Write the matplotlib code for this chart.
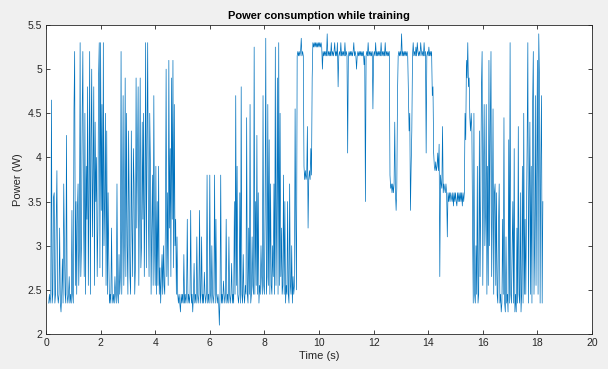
import numpy as np
import matplotlib
matplotlib.use("Agg")
from matplotlib import pyplot as plt

# sample spacing of the logger (s)
dt = 0.025

# power readings (W), grouped by phase of the run
# one row = 0.5 s of samples

# phase 1: busy start, from 0.10 s
start_1 = 0.10
power_1 = [2.35, 2.45, 2.35, 2.45, 4.65, 2.35, 2.45, 3.55, 3.6, 2.35, 2.45, 3.3, 3.85, 2.45, 2.35, 2.45, 3.2, 2.35, 2.25, 2.45,
           2.85, 2.35, 3.7, 3.0, 2.45, 2.35, 4.25, 2.45, 2.35, 2.45, 2.65, 2.35, 2.45, 2.35, 3.4, 2.45, 2.35, 4.55, 5.2, 2.55,
           3.5, 2.45, 3.4, 3.7, 2.55, 3.0, 5.3, 2.65, 3.0, 4.5, 5.2, 3.3, 2.65, 4.5, 2.45, 3.9, 3.3, 4.8, 2.55, 3.6,
           5.2, 2.45, 4.2, 5.0, 3.1, 3.8, 4.8, 2.55, 4.4, 3.5, 4.0, 2.65, 3.2, 4.9, 5.3, 2.75, 5.3, 3.4, 4.6, 2.65,
           5.3, 3.0, 3.5, 4.5, 2.55, 4.3, 2.45, 3.6, 2.85, 2.35, 2.45, 2.35, 3.2, 2.45, 2.35, 2.45, 2.35, 2.65, 2.45, 2.35,
           3.7, 2.45, 2.35, 2.9, 2.45, 2.65, 5.2, 2.45, 3.3, 4.7, 2.55, 3.1, 4.9, 2.65, 4.5, 3.0, 2.45, 4.3, 3.5, 2.65,
           2.45, 4.3, 3.2, 2.65, 4.1, 3.7, 2.45, 2.75, 4.9, 3.2, 4.0, 4.8, 2.55, 3.6, 4.9, 2.75, 3.0, 4.4, 3.3, 4.5,
           2.65, 3.5, 5.3, 2.75, 4.2, 5.3, 3.4, 2.65, 4.5, 3.9, 2.45, 3.2, 3.8, 2.55, 4.7, 3.0, 2.55, 3.9, 2.45, 3.5,
           2.55, 3.9, 2.45, 2.75, 2.35, 2.65, 2.9, 2.45, 3.0, 2.55, 2.45, 3.3, 5.0, 2.65, 3.6, 2.55, 5.1, 3.2, 4.1, 2.65,
           4.9, 3.3, 5.1, 2.75, 4.6, 3.0, 3.3, 2.45, 3.1, 2.45]

# phase 2: mostly idle with spikes, from 4.85 s
start_2 = 4.85
power_2 = [2.35, 2.45, 2.35, 2.25, 2.45, 2.35, 2.45, 2.35, 2.9, 2.35, 2.45, 2.35, 2.45, 3.3, 2.35, 2.45, 2.35, 2.45, 3.4, 2.35,
           2.45, 2.25, 2.45, 2.8, 2.35, 2.45, 2.35, 3.1, 2.45, 2.35, 2.45, 3.4, 2.35, 2.45, 3.1, 2.35, 2.45, 2.35, 2.7, 2.45,
           2.35, 2.45, 3.8, 2.35, 2.45, 2.35, 3.8, 2.45, 2.35, 3.0, 2.45, 2.35, 2.45, 3.8, 2.35, 3.3, 2.45, 2.35, 2.45, 2.35,
           2.1, 2.45, 3.8, 2.35, 2.45, 2.35, 2.6, 2.45, 2.35, 2.45, 3.3, 2.35, 2.45, 2.35, 3.1, 2.45, 2.35, 2.45, 2.8, 2.35,
           2.45, 2.35, 3.5, 2.45, 4.7, 2.55, 3.9, 2.45, 2.35, 2.45, 3.6, 2.35, 4.8, 2.45, 2.35, 2.9, 2.45, 2.35, 2.55, 2.45,
           4.45, 2.45, 2.35, 3.2, 2.45, 4.6, 2.35, 2.45, 3.1, 2.55, 2.45, 5.25, 2.45, 3.5, 2.55, 4.25, 2.45, 3.6, 2.35, 2.55,
           2.45, 3.0, 2.65, 2.45, 4.7, 2.55, 2.45, 3.4, 5.35, 2.45, 2.65, 4.6, 2.55, 4.2, 2.45, 3.7, 2.55, 2.45, 3.0, 2.65,
           3.7, 2.45, 5.25, 2.55, 3.3, 4.9, 2.45, 5.3, 2.55, 4.5, 2.65, 3.2, 2.45, 2.55, 3.8, 2.45, 3.5, 2.35, 2.55, 2.45,
           3.5, 2.45, 2.35, 3.7, 2.55, 2.45, 3.0, 2.35, 2.65, 2.45, 2.55, 4.55, 3.2, 2.5]

# phase 3: high plateau, from 9.20 s
start_3 = 9.20
power_3 = [5.15, 5.2, 5.15, 5.2, 5.15, 5.2, 5.35, 5.15, 5.2, 5.15, 3.9, 3.75, 3.85, 3.75, 3.8, 4.35, 3.2, 3.75, 3.85, 3.75,
           4.1, 3.8, 4.9, 5.3, 5.25, 5.3, 5.25, 5.3, 5.25, 5.3, 5.25, 5.3, 5.25, 5.3, 5.25, 5.3, 5.25, 5.0, 5.2, 5.15,
           5.2, 5.15, 5.2, 5.15, 5.4, 5.15, 5.2, 5.15, 5.2, 5.15, 5.3, 5.15, 5.2, 5.15, 5.2, 5.3, 5.15, 5.2, 5.15, 5.3,
           4.8, 5.15, 5.2, 5.15, 5.3, 5.15, 5.2, 5.15, 5.2, 5.15, 5.3, 5.15, 5.2, 5.15, 4.05, 5.15, 5.2, 5.15, 5.2, 5.15,
           5.2, 5.15, 5.2, 5.3, 5.15, 5.2, 5.15, 5.0, 5.15, 5.2, 5.15, 5.2, 5.15, 5.2, 5.15, 5.2, 5.15, 5.2, 5.05, 5.15,
           3.5, 5.15, 5.2, 5.15, 5.3, 5.15, 5.2, 5.15, 5.2, 5.15, 5.2, 4.55, 5.15, 5.2, 5.15, 5.3, 5.15, 5.2, 5.15, 5.2,
           5.15, 5.2, 5.15, 5.3, 5.15, 5.2, 5.15, 5.2, 5.15, 5.3, 5.15, 5.2, 5.15, 5.2, 5.15, 5.2, 3.8, 3.65, 3.7, 3.6,
           3.7, 3.6, 3.7, 4.4, 3.6, 3.4, 3.65, 4.7, 5.15, 5.2, 5.15, 5.2, 5.15, 5.4, 5.15, 5.2, 5.15, 5.2, 5.15, 5.2,
           5.15, 5.2, 5.15, 4.7, 4.3, 4.5, 3.4, 3.9, 4.3, 5.15, 5.3, 5.15, 5.2, 5.15, 5.25, 5.15, 5.3, 5.2, 5.15, 5.2,
           5.15, 5.3, 5.2, 5.15, 5.2, 5.15, 5.3, 5.15, 5.2, 4.05, 5.15, 5.2, 5.15, 5.25, 5.15, 5.2, 5.15, 5.2, 4.7, 4.8,
           4.05, 3.9, 3.85, 3.95, 3.85, 3.9, 4.05, 3.85, 4.15, 2.65, 3.8, 3.7, 3.65, 4.35, 3.6, 3.7, 3.65, 3.6, 3.7, 3.6,
           3.1, 3.6, 3.5, 3.6, 3.5, 3.6, 3.55, 3.5, 3.6, 3.45, 3.6, 3.5, 3.6, 3.5, 3.45, 3.6, 3.5, 3.6, 3.5, 3.6,
           3.5, 3.6, 3.45, 3.6, 3.5, 3.6, 4.5, 4.2, 5.1, 4.9, 5.3, 4.8, 4.9, 4.45, 4.3, 4.5]

# phase 4: busy end, from 15.60 s
start_4 = 15.60
power_4 = [4.3, 3.2, 2.35, 4.5, 2.45, 2.35, 3.0, 2.45, 3.9, 2.35, 2.45, 4.3, 2.65, 3.5, 4.8, 5.2, 2.55, 3.8, 4.6, 3.0,
           3.4, 4.6, 2.45, 3.9, 2.55, 5.1, 3.0, 4.4, 5.2, 2.65, 3.4, 4.55, 2.45, 3.6, 3.7, 2.55, 3.6, 2.45, 2.35, 3.2,
           3.7, 2.35, 2.45, 2.25, 2.35, 3.3, 2.45, 4.45, 2.35, 2.25, 3.1, 2.35, 2.45, 2.25, 4.2, 2.35, 5.3, 2.45, 2.35, 3.0,
           3.5, 2.35, 4.1, 2.25, 2.45, 2.25, 3.2, 2.35, 4.35, 2.45, 2.35, 3.6, 2.25, 2.45, 3.9, 2.35, 4.5, 2.45, 3.3, 2.45,
           3.3, 4.2, 5.3, 2.35, 3.6, 4.4, 2.45, 3.9, 2.35, 4.6, 5.2, 2.45, 3.0, 4.7, 2.55, 3.8, 5.1, 2.45, 5.4, 4.9,
           2.35, 4.0, 4.7, 2.35, 3.5]

phases = [(start_1, power_1), (start_2, power_2),
          (start_3, power_3), (start_4, power_4)]
t = np.concatenate([s + np.arange(len(p)) * dt for s, p in phases])
w = np.concatenate([np.asarray(p) for s, p in phases])

plt.rcParams['font.family'] = ['Liberation Sans', 'DejaVu Sans']
ink = '#262626'

fig = plt.figure(figsize=(6.08, 3.69), dpi=100, facecolor='#f0f0f0')
ax = fig.add_axes([46 / 608, 35 / 369, 546 / 608, 309 / 369])
ax.plot(t, w, color='#0072bd', lw=0.5)

ax.set_xlim(0, 20)
ax.set_ylim(2, 5.5)
ax.set_xticks(np.arange(0, 21, 2))
ax.set_yticks(np.arange(2, 5.51, 0.5))
ax.set_yticklabels(['2', '2.5', '3', '3.5', '4', '4.5', '5', '5.5'])
ax.tick_params(direction='in', length=3, width=0.6, colors=ink,
               labelsize=7.5, top=True, right=True, pad=3)
for sp in ax.spines.values():
    sp.set_color(ink)
    sp.set_linewidth(0.6)

ax.set_title('Power consumption while training', fontsize=8,
             fontweight='bold', color='black', pad=4)
ax.set_xlabel('Time (s)', fontsize=8, color=ink, labelpad=2)
ax.set_ylabel('Power (W)', fontsize=8, color=ink, labelpad=3)

fig.savefig('out.png', dpi=100, facecolor=fig.get_facecolor())
